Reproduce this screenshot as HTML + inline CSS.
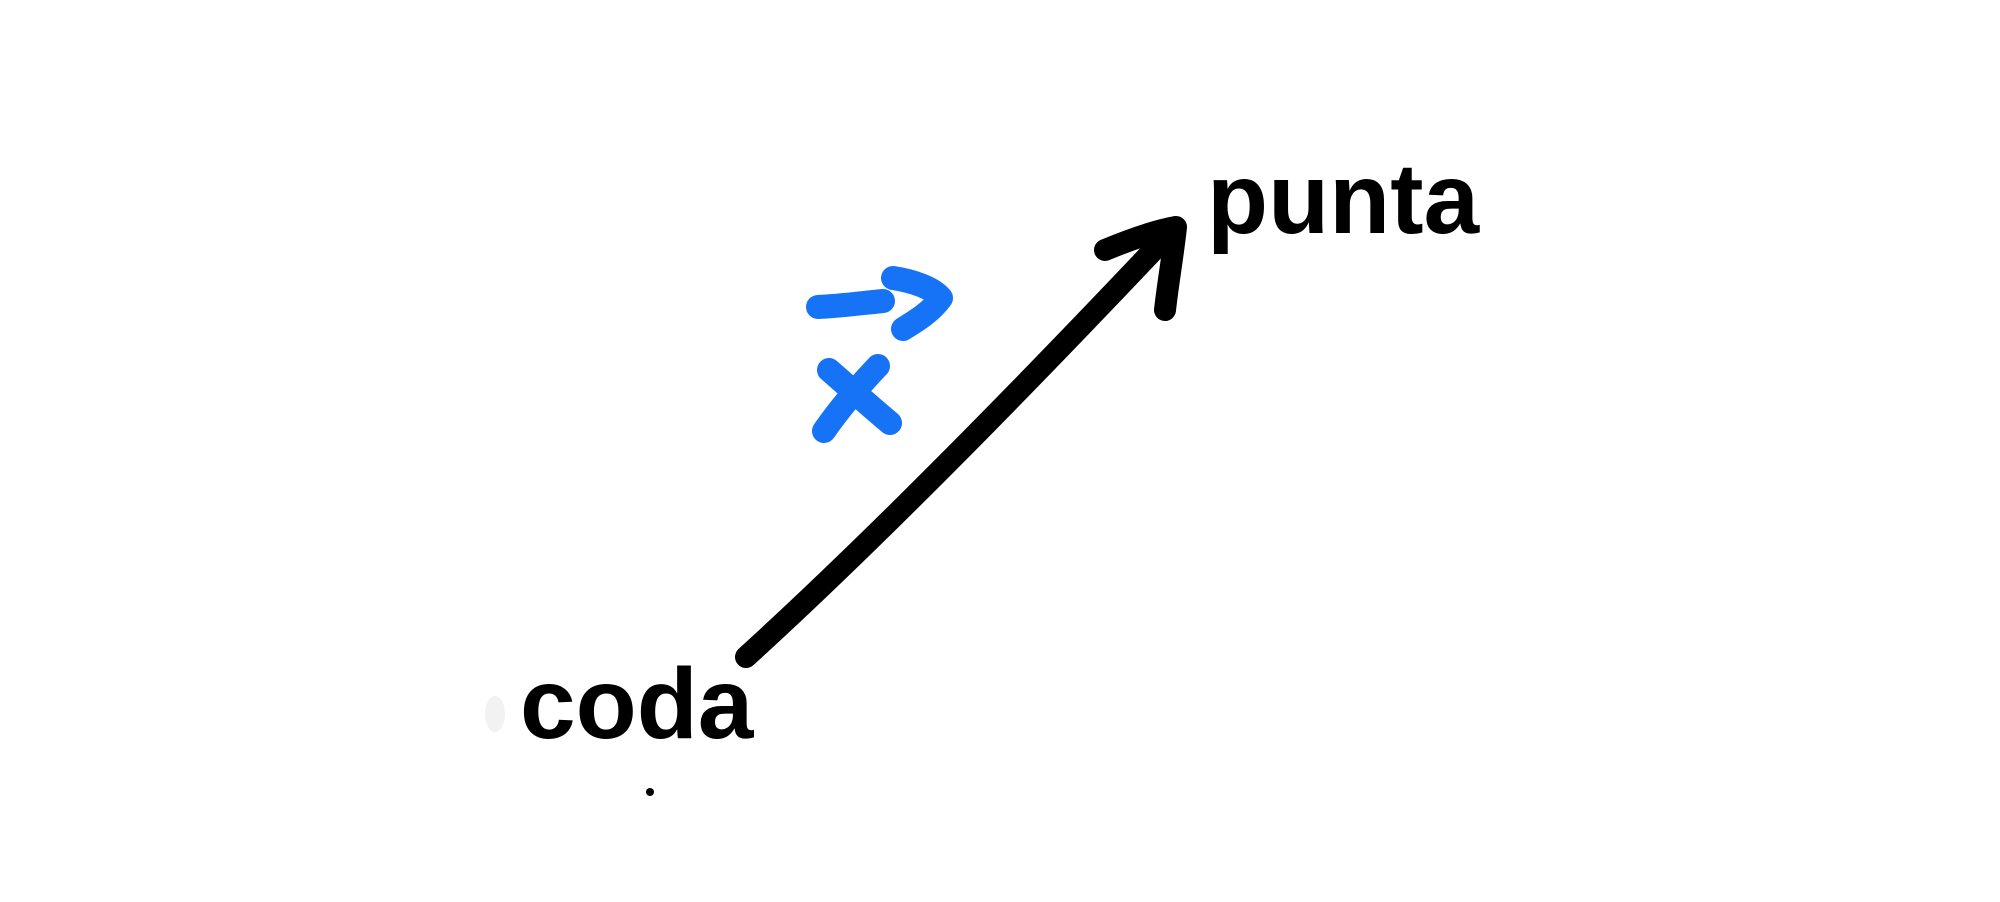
<!DOCTYPE html>
<html>
<head>
<meta charset="utf-8">
<style>
html,body{margin:0;padding:0;background:#fff;width:2000px;height:902px;overflow:hidden}
svg{display:block}
</style>
</head>
<body>
<svg width="2000" height="902" viewBox="0 0 2000 902" xmlns="http://www.w3.org/2000/svg">
  <rect width="2000" height="902" fill="#ffffff"/>
  <g stroke="#000" stroke-width="22" stroke-linecap="round" stroke-linejoin="round" fill="none">
    <path d="M746 657 C 880 535, 1046 364, 1167 236"/>
    <path d="M1105 250 C 1129 240, 1154 231, 1176 227 C 1173 255, 1168 283, 1165 310"/>
  </g>
  <g stroke="#1673f5" stroke-width="24" stroke-linecap="round" stroke-linejoin="round" fill="none">
    <path d="M818 307 C 840 306, 862 303, 883 301"/>
    <path d="M893 278 C 913 281, 933 288, 941 298 C 931 312, 916 321, 903 329"/>
    <path d="M829 370 C 852 390, 872 408, 890 423"/>
    <path d="M878 366 C 857 388, 840 408, 824 431"/>
  </g>
  <text x="1207" y="233" font-family="Liberation Sans, sans-serif" font-weight="bold" font-size="100" fill="#000">punta</text>
  <text x="520" y="738" font-family="Liberation Sans, sans-serif" font-weight="bold" font-size="100" fill="#000">coda</text>
  <circle cx="650" cy="792" r="4" fill="#000"/>
  <ellipse cx="495" cy="714" rx="10" ry="18" fill="#f2f2f2"/>
</svg>
</body>
</html>
